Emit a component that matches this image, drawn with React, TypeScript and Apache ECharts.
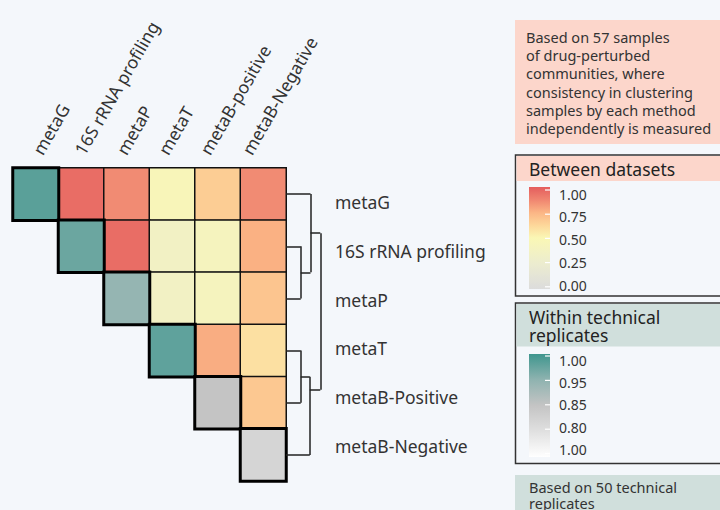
import React, { useEffect, useRef } from "react";
import * as echarts from "echarts";

const FONT = "'Noto Sans', sans-serif";

const colLabels = ["metaG", "16S rRNA profiling", "metaP", "metaT", "metaB-positive", "metaB-Negative"];
const rowLabels = ["metaG", "16S rRNA profiling", "metaP", "metaT", "metaB-Positive", "metaB-Negative"];

// upper triangle: similarity between datasets (row, col)
const betweenMatrix: (number | null)[][] = [
  [null, 0.95, 0.86, 0.46, 0.66, 0.86],
  [null, null, 0.95, 0.36, 0.41, 0.76],
  [null, null, null, 0.36, 0.41, 0.69],
  [null, null, null, null, 0.77, 0.59],
  [null, null, null, null, null, 0.68],
  [null, null, null, null, null, null],
];
// diagonal: within technical replicates
const withinValues = [0.979, 0.966, 0.93, 0.975, 0.875, 0.837];

const betweenColors = ["#dcdcdc", "#e4e4d6", "#ececcf", "#f3f2c2", "#faf7b5", "#fdd79a", "#fbb585", "#f08570", "#e45d5d"];
const withinColors = ["#ffffff", "#e0e0e0", "#c4c4c4", "#8fb3b0", "#3f968e"];

const betweenTicks = ["1.00", "0.75", "0.50", "0.25", "0.00"];
const withinTicks = ["1.00", "0.95", "0.85", "0.80", "1.00"];

const noteTop = [
  "Based on 57 samples",
  "of drug-perturbed",
  "communities, where",
  "consistency in clustering",
  "samples by each method",
  "independently is measured",
];
const noteBottom = ["Based on 50 technical", "replicates"];

// dendrogram segments: [height, position, heightEnd, positionEnd]
const dendroSegments = [
  [0, 0.5, 0.7, 0.5],
  [0, 1.5, 0.42, 1.5],
  [0, 2.5, 0.42, 2.5],
  [0.42, 1.5, 0.42, 2.5],
  [0.42, 2.0, 0.7, 2.0],
  [0.7, 0.5, 0.7, 2.0],
  [0.7, 1.25, 0.98, 1.25],
  [0, 3.5, 0.42, 3.5],
  [0, 4.5, 0.42, 4.5],
  [0.42, 3.5, 0.42, 4.5],
  [0.42, 4.0, 0.68, 4.0],
  [0, 5.5, 0.68, 5.5],
  [0.68, 4.0, 0.68, 5.5],
  [0.68, 4.25, 0.98, 4.25],
  [0.98, 1.25, 0.98, 4.25],
];

function gradientStops(colors: string[]) {
  const n = colors.length;
  return colors
    .slice()
    .reverse()
    .map((c, i) => ({ offset: i / (n - 1), color: c }));
}

function textEl(lines: string[], x: number, yTop: number, lineHeight: number, size: number, fill: string, z = 12) {
  return {
    type: "text",
    x,
    y: yTop,
    z,
    style: {
      text: lines.join("\n"),
      fill,
      font: `${size}px ${FONT}`,
      lineHeight,
      align: "left",
      verticalAlign: "top",
      textAlign: "left",
      textVerticalAlign: "top",
    },
  };
}

function legendBox(
  top: number,
  height: number,
  headerLines: string[],
  headerH: number,
  headerFill: string,
  barTop: number,
  barH: number,
  colors: string[],
  labels: string[],
  tickStart: number,
  tickStep: number,
  labelStart: number,
  labelStep: number
) {
  const els: any[] = [];
  els.push({
    type: "rect",
    shape: { x: 515.5, y: top, width: 215, height },
    style: { fill: "#f4f7fb", stroke: "#333", lineWidth: 1.5 },
    z: 10,
  });
  els.push({
    type: "rect",
    shape: { x: 516.5, y: top + 1, width: 210, height: headerH },
    style: { fill: headerFill },
    z: 11,
  });
  els.push(textEl(headerLines, 529, top + 14 - 9.15, 18.3, 17.5, "#222"));
  els.push({
    type: "rect",
    shape: { x: 529, y: barTop, width: 21, height: barH },
    style: {
      fill: { type: "linear", x: 0, y: 0, x2: 0, y2: 1, colorStops: gradientStops(colors) },
    },
    z: 12,
  });
  labels.forEach((l, i) => {
    const ty = tickStart + i * tickStep;
    els.push({
      type: "line",
      shape: { x1: 545, y1: ty, x2: 550, y2: ty },
      style: { stroke: "#ffffff", lineWidth: 1.2 },
      z: 13,
    });
    els.push({
      type: "text",
      x: 559,
      y: labelStart + i * labelStep,
      style: {
        text: l,
        fill: "#333",
        font: `14px ${FONT}`,
        align: "left",
        verticalAlign: "middle",
        textAlign: "left",
        textVerticalAlign: "middle",
      },
      z: 13,
    });
  });
  return els;
}

export default function App() {
  const ref = useRef<HTMLDivElement>(null);

  useEffect(() => {
    if (!ref.current) return;
    const chart = echarts.init(ref.current, null, { renderer: "svg" });

    const betweenData: any[] = [];
    betweenMatrix.forEach((row, r) =>
      row.forEach((v, c) => {
        if (v !== null) betweenData.push([c, r, v]);
      })
    );
    const withinData = withinValues.map((v, i) => [i, i, v]);

    const graphic: any[] = [];
    graphic.push({
      type: "rect",
      shape: { x: 515, y: 20, width: 210, height: 124 },
      style: { fill: "#fcd6cb" },
    });
    graphic.push(textEl(noteTop, 526, 27.6, 18.3, 14.5, "#333"));
    graphic.push(
      ...legendBox(155, 141, ["Between datasets"], 25, "#fcd6cb", 187, 102, betweenColors, betweenTicks, 190, 24.2, 194, 22.8)
    );
    graphic.push(
      ...legendBox(303, 160.5, ["Within technical", "replicates"], 42.5, "#d0dfdc", 354, 103, withinColors, withinTicks, 356, 24.4, 360, 22.4)
    );
    graphic.push({
      type: "rect",
      shape: { x: 515, y: 475, width: 210, height: 40 },
      style: { fill: "#d0dfdc" },
    });
    graphic.push(textEl(noteBottom, 529, 478.4, 16.6, 14.5, "#333"));

    chart.setOption({
      animation: false,
      backgroundColor: "#f4f7fb",
      textStyle: { fontFamily: FONT },
      grid: [
        { left: 13, top: 168, width: 273, height: 313 },
        { left: 286, top: 168, width: 35, height: 313 },
        { left: 320, top: 178, width: 10, height: 292 },
        { left: 16, top: 168, width: 251, height: 10 },
      ],
      xAxis: [
        {
          type: "category",
          gridIndex: 0,
          data: colLabels,
          position: "top",
          show: false,
        },
        { type: "value", gridIndex: 1, min: 0, max: 1, show: false },
        { type: "value", gridIndex: 2, min: 0, max: 1, show: false },
        {
          type: "category",
          gridIndex: 3,
          data: colLabels,
          position: "top",
          axisLine: { show: false, onZero: false },
          axisTick: { show: false },
          splitLine: { show: false },
          axisLabel: { rotate: -60, margin: 15, fontSize: 17.5, color: "#333", interval: 0, fontFamily: FONT },
        },
      ],
      yAxis: [
        { type: "category", gridIndex: 0, data: rowLabels, inverse: true, show: false },
        { type: "value", gridIndex: 1, min: 0, max: 6, inverse: true, show: false },
        {
          type: "category",
          gridIndex: 2,
          data: rowLabels,
          inverse: true,
          position: "right",
          axisLine: { show: false },
          axisTick: { show: false },
          splitLine: { show: false },
          axisLabel: { margin: 5, fontSize: 17.5, color: "#333", align: "left", interval: 0, fontFamily: FONT },
        },
        { type: "category", gridIndex: 3, data: ["a"], show: false },
      ],
      visualMap: [
        { type: "continuous", seriesIndex: 0, min: 0, max: 1, show: false, inRange: { color: betweenColors } },
        { type: "continuous", seriesIndex: 1, min: 0.75, max: 1, show: false, inRange: { color: withinColors } },
      ],
      series: [
        {
          type: "heatmap",
          xAxisIndex: 0,
          yAxisIndex: 0,
          data: betweenData,
          itemStyle: { borderColor: "#111", borderWidth: 1.5 },
          emphasis: { disabled: true },
          silent: true,
        },
        {
          type: "heatmap",
          xAxisIndex: 0,
          yAxisIndex: 0,
          data: withinData,
          itemStyle: { borderColor: "#000", borderWidth: 3 },
          emphasis: { disabled: true },
          silent: true,
        },
        {
          type: "lines",
          coordinateSystem: "cartesian2d",
          xAxisIndex: 1,
          yAxisIndex: 1,
          data: dendroSegments.map((s) => ({ coords: [[s[0], s[1]], [s[2], s[3]]] })),
          lineStyle: { color: "#222", width: 1.5, opacity: 1, curveness: 0 },
          silent: true,
        },
      ],
      graphic,
    });

    return () => chart.dispose();
  }, []);

  return (
    <div
      ref={ref}
      style={{ position: "fixed", left: 0, top: 0, width: 720, height: 510 }}
    />
  );
}
